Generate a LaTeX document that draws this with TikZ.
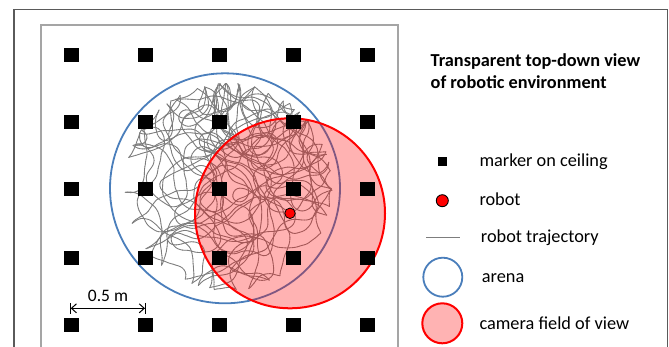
\documentclass[tikz,border=0pt]{standalone}
\usepackage{fontspec}
\setmainfont{Carlito}
\usetikzlibrary{arrows.meta}
\definecolor{arenablue}{RGB}{74,126,187}
\definecolor{camred}{RGB}{255,0,0}
\definecolor{campink}{RGB}{255,179,179}
\definecolor{trajgray}{RGB}{125,125,125}
\definecolor{outergray}{RGB}{90,90,90}
\definecolor{innergray}{RGB}{165,165,165}
\begin{document}
\begin{tikzpicture}[x=1pt,y=-1pt,
  marker/.style={fill=black,draw=none,inner sep=0pt,minimum width=15pt,minimum height=14pt},
  legmarker/.style={fill=black,draw=none,inner sep=0pt,minimum size=9pt},
  robotdot/.style={circle,fill=camred,draw=black,line width=0.8pt,inner sep=0pt,minimum size=10.5pt},
  legrobot/.style={circle,fill=camred,draw=black,line width=0.9pt,inner sep=0pt,minimum size=12pt},
  traj/.style={trajgray,line width=0.85pt,line cap=round},
  legtext/.style={anchor=base west,inner sep=0pt,font=\fontsize{18.3}{21}\selectfont},
  titletext/.style={anchor=base west,inner sep=0pt,font=\fontsize{18.3}{21}\selectfont\bfseries},
  arenacirc/.style={circle,draw=arenablue,line width=1.8pt,inner sep=0pt},
  camcirc/.style={circle,draw=camred,line width=2pt,inner sep=0pt}]
\useasboundingbox (0,0) rectangle (669,346);
\fill[white] (0,0) rectangle (669,346);
% frames
\draw[outergray,line width=1.6pt] (14,360) -- (14,9.5) -- (667.5,9.5) -- (667.5,360);
\draw[innergray,line width=1.6pt] (41,360) -- (41,25) -- (398,25) -- (398,360);
% arena
\node[arenacirc,minimum size=230pt] (arena) at (225,188.3) {};
% trajectory (random walk)
\pgfmathsetseed{31337}
\xdef\rwX{290}\xdef\rwY{213}\xdef\rwH{200}\xdef\rwW{0}
\foreach \i in {1,...,4500}{
  \pgfmathsetmacro\rwNW{0.75*\rwW+9*rand}
  \pgfmathsetmacro\rwNH{mod(\rwH+\rwNW,360)}
  \pgfmathsetmacro\rwNX{\rwX+2.5*cos(\rwNH)}
  \pgfmathsetmacro\rwNY{\rwY+2.5*sin(\rwNH)}
  \pgfmathsetmacro\rwD{veclen(\rwNX-228,\rwNY-187)}
  \ifdim\rwD pt>104pt
    \pgfmathsetmacro\rwNH{atan2(187-\rwY,228-\rwX)+70*rand}
    \pgfmathsetmacro\rwNX{\rwX+2.5*cos(\rwNH)}
    \pgfmathsetmacro\rwNY{\rwY+2.5*sin(\rwNH)}
    \gdef\rwW{0}
  \else
    \xdef\rwW{\rwNW}
  \fi
  \draw[traj] (\rwX,\rwY) -- (\rwNX,\rwNY);
  \xdef\rwX{\rwNX}\xdef\rwY{\rwNY}\xdef\rwH{\rwNH}
}
% camera field of view
\fill[camred,fill opacity=0.3] (290,213.3) circle[radius=95pt];
\node[camcirc,minimum size=190pt] (camera) at (290,213.3) {};
% markers
\foreach \c [count=\ci] in {71,145,219,293,367}{
  \foreach \r [count=\ri] in {54.5,122,189,258,325}{
    \node[marker] (m\ci\ri) at (\c,\r) {};
  }
}
% robot
\node[robotdot] (robot) at (290,213.3) {};
% scale bar
\coordinate (sbl) at (70.7,308.3);
\coordinate (sbr) at (145,308.3);
\draw[black,line width=1pt] (sbl) ++(0,-5.5) -- ++(0,11);
\draw[black,line width=1pt] (sbr) ++(0,-5.5) -- ++(0,11);
\draw[black,line width=1pt,{Straight Barb[length=5pt,width=9pt]}-{Straight Barb[length=5pt,width=9pt]}] (sbl) -- (sbr);
\node[anchor=base,inner sep=0pt,font=\fontsize{17.5}{20}\selectfont] (sblabel) at (108,301.7) {0.5 m};
% legend
\node[titletext] (title1) at (430.5,66.7) {Transparent top-down view};
\node[titletext] (title2) at (430.5,88.2) {of robotic environment};
\node[legmarker] (lmarker) at (442,161.5) {};
\node[legtext] (tmarker) at (479.3,166.7) {marker on ceiling};
\node[legrobot] (lrobot) at (442.3,200.7) {};
\node[legtext] (trobot) at (479.3,205.7) {robot};
\coordinate (ltl) at (426,237.3);
\coordinate (ltr) at (460,237.3);
\draw[trajgray,line width=1.4pt] (ltl) -- (ltr);
\node[legtext] (ttraj) at (480.7,242.3) {robot trajectory};
\node[arenacirc,minimum size=39pt] (larena) at (442.8,277.2) {};
\node[legtext] (tarena) at (481.7,282.3) {arena};
\node[camcirc,fill=campink,minimum size=40pt] (lcam) at (442.3,323.3) {};
\node[legtext] (tcam) at (479.3,329) {camera field of view};
\end{tikzpicture}
\end{document}
